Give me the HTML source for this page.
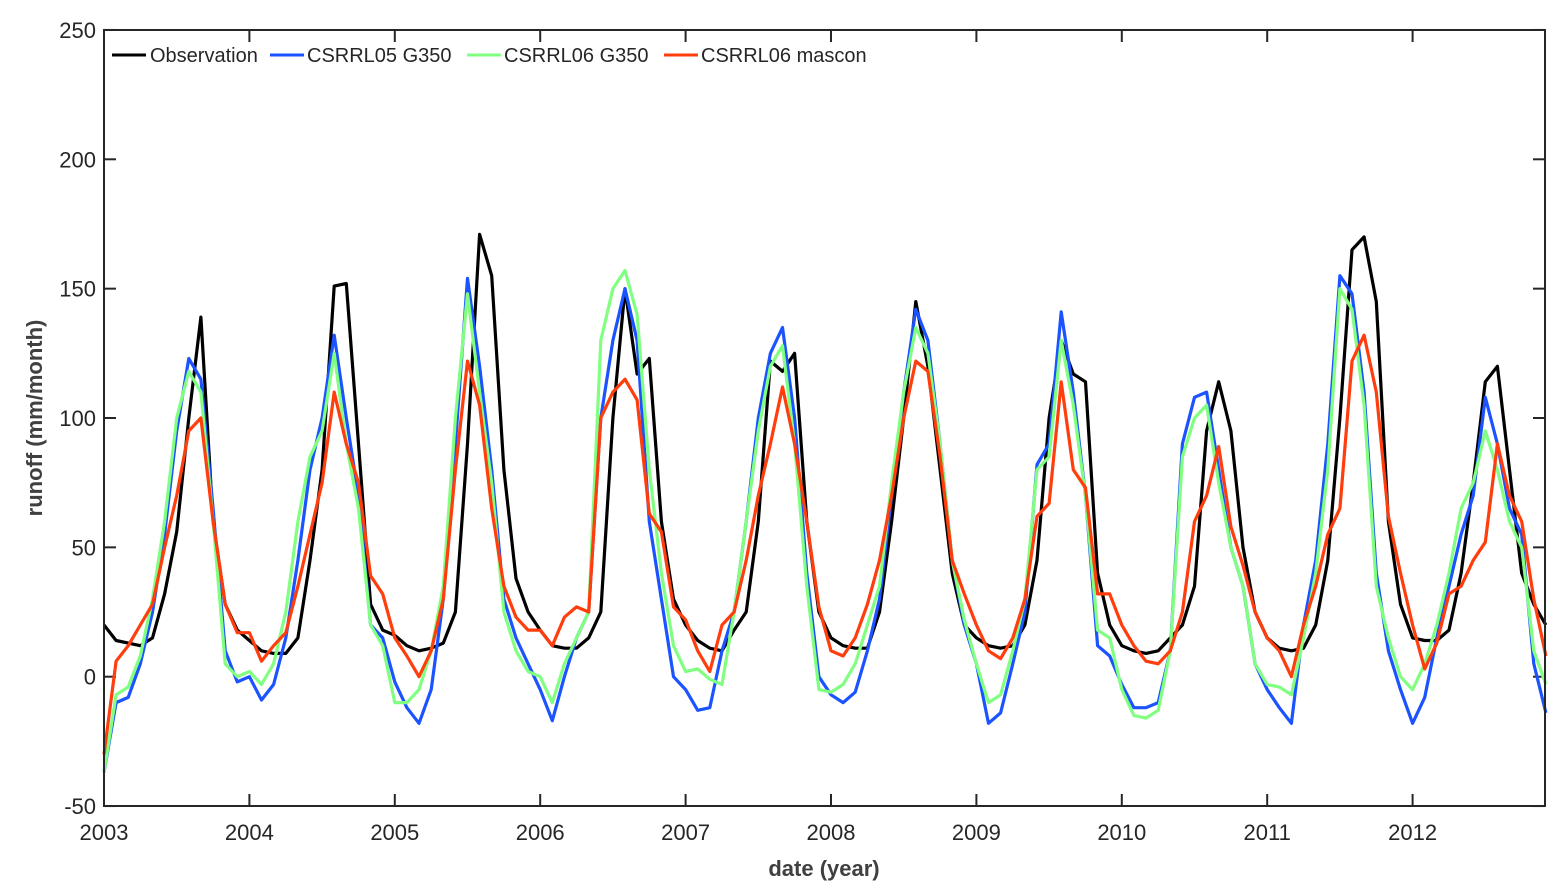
<!DOCTYPE html>
<html><head><meta charset="utf-8"><style>
html,body{margin:0;padding:0;background:#fff;}
svg{display:block;font-family:"Liberation Sans",Arial,sans-serif;}
</style></head><body>
<svg id="c" width="1567" height="895" viewBox="0 0 1567 895" xmlns="http://www.w3.org/2000/svg">
<rect x="0" y="0" width="1567" height="895" fill="#fff"/>
<g id="ticks"></g>
<g id="lines" fill="none" stroke-width="3.2" stroke-linejoin="round"></g>
<rect x="104" y="30" width="1441" height="776" fill="none" stroke="#262626" stroke-width="2"/>
<g font-size="20" fill="#262626">
<line x1="112" y1="55" x2="146" y2="55" stroke="#000" stroke-width="3"/><text x="150" y="62">Observation</text>
<line x1="270" y1="55" x2="304" y2="55" stroke="#1a53ff" stroke-width="3"/><text x="307" y="62">CSRRL05 G350</text>
<line x1="467" y1="55" x2="501" y2="55" stroke="#80ff80" stroke-width="3"/><text x="504" y="62">CSRRL06 G350</text>
<line x1="664" y1="55" x2="698" y2="55" stroke="#ff3d0d" stroke-width="3"/><text x="701" y="62">CSRRL06 mascon</text>
</g>
<text x="824" y="876" font-size="22" font-weight="bold" fill="#404040" text-anchor="middle">date (year)</text>
<text transform="translate(42,418) rotate(-90)" font-size="22" font-weight="bold" fill="#404040" text-anchor="middle">runoff (mm/month)</text>
</svg>
<script>
var X0=104,DX=145.4/12,Y0=676.7,DY=2.587;
function px(i){return X0+DX*i;} function py(v){return Y0-DY*v;}
var ns="http://www.w3.org/2000/svg",t=document.getElementById("ticks"),L=document.getElementById("lines");
function el(n,a,p,txt){var e=document.createElementNS(ns,n);for(var k in a)e.setAttribute(k,a[k]);if(txt!=null)e.textContent=txt;p.appendChild(e);return e;}
for(var v=-50;v<=250;v+=50){var y=py(v);
el("line",{x1:104,y1:y,x2:116,y2:y,stroke:"#262626","stroke-width":2},t);
el("line",{x1:1545,y1:y,x2:1533,y2:y,stroke:"#262626","stroke-width":2},t);
el("text",{x:96,y:y+8,"font-size":22,fill:"#262626","text-anchor":"end"},t,String(v));}
for(var yr=2003;yr<=2012;yr++){var x=X0+(yr-2003)*145.4;
el("line",{x1:x,y1:806,x2:x,y2:794,stroke:"#262626","stroke-width":2},t);
el("line",{x1:x,y1:30,x2:x,y2:42,stroke:"#262626","stroke-width":2},t);
el("text",{x:x,y:840,"font-size":22,fill:"#262626","text-anchor":"middle"},t,String(yr));}
var obs=[20,14,13,12,15,32,56,100,139,60,28,18, 14,10,9,9,15,45,80,151,152,90,28,18, 16,12,10,11,13,25,90,171,155,80,38,25, 18,12,11,11,15,25,100,150,117,123,60,30, 20,14,11,10,18,25,60,122,118,125,60,25, 15,12,11,11,25,60,100,145,120,80,40,20, 15,12,11,12,20,45,100,130,117,114,40,20, 12,10,9,10,15,20,35,95,114,95,50,25, 15,11,10,11,20,45,100,165,170,145,60,28, 15,14,14,18,40,75,114,120,80,40,28,20];
var b=[-37,-10,-8,5,25,55,95,123,115,65,10,-2, 0,-9,-3,15,45,80,100,132,100,70,20,15, -2,-12,-18,-5,30,90,154,120,80,30,15,5, -5,-17,0,15,25,100,130,150,130,60,30,0, -5,-13,-12,10,25,60,100,125,135,100,40,0, -7,-10,-6,10,30,70,110,142,130,90,45,20, 5,-18,-14,5,25,82,90,141,110,70,12,8, -3,-12,-12,-10,10,90,108,110,80,50,35,5, -5,-12,-18,20,45,90,155,148,110,40,10,-5, -18,-8,15,35,55,70,108,90,65,55,5,-14];
var g=[-37,-7,-4,8,30,60,100,118,110,60,5,0, 2,-3,5,25,60,85,95,125,90,65,20,12, -10,-10,-5,10,35,100,148,110,75,25,10,2, 0,-10,5,15,25,130,150,157,140,80,40,12, 2,3,-1,-3,25,60,95,120,128,90,35,-5, -6,-3,5,20,35,75,110,135,125,90,45,22, 5,-10,-7,10,30,80,85,130,105,70,18,15, -5,-15,-16,-13,10,85,100,105,75,50,35,5, -3,-4,-7,15,40,80,150,142,105,35,15,0, -5,5,20,40,65,75,95,80,60,50,10,-3];
var r=[-30,6,12,20,28,50,70,95,100,60,28,17, 17,6,12,17,35,55,75,110,90,75,39,32, 15,8,0,10,30,80,122,105,65,35,23,18, 18,12,23,27,25,100,110,115,107,63,56,27, 22,10,2,20,25,45,70,90,112,90,60,27, 10,8,15,28,45,70,100,122,118,85,45,32, 20,10,7,15,30,62,67,114,80,73,32,32, 20,12,6,5,10,25,60,70,89,58,43,25, 15,10,0,20,35,55,65,122,132,110,62,40, 20,3,13,32,35,45,52,90,70,60,30,8];
function pl(d,c){var s=d.map(function(v,i){return px(i).toFixed(1)+","+py(v).toFixed(1);}).join(" ");el("polyline",{points:s,stroke:c},L);}
pl(obs,"#000");pl(b,"#1a53ff");pl(g,"#80ff80");pl(r,"#ff3d0d");
</script>
</body></html>
